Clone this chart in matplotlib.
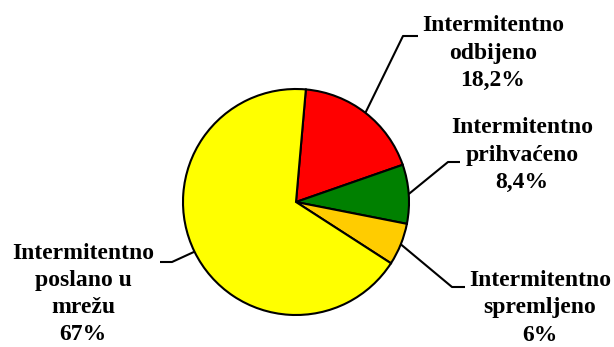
import numpy as np
import matplotlib
matplotlib.use("Agg")
import matplotlib.pyplot as plt

# slice data, clockwise from the top
labels = ["Intermitentno\nodbijeno", "Intermitentno\nprihvaćeno",
          "Intermitentno\nspremljeno", "Intermitentno\nposlano u\nmrežu"]
pct_text = ["18,2%", "8,4%", "6%", "67%"]
values = [18.2, 8.4, 6.0, 67.0]
colors = ["#FF0000", "#008000", "#FFCC00", "#FFFF00"]

W, H = 614, 347
fig = plt.figure(figsize=(W / 100, H / 100), dpi=100)
ax = fig.add_axes([0, 0, 1, 1])

cx, cy, r = 296, H - 202, 113
start = 85
wedges, _ = ax.pie(values, colors=colors, startangle=start, counterclock=False,
                   center=(cx, cy), radius=r,
                   wedgeprops=dict(edgecolor="black", linewidth=1.5))

# label layout: elbow point, end of horizontal stub, text centre (pixels, y down)
layout = [
    ((403, 36), (418, 36), (493, 53)),
    ((448, 162), (460, 162), (522, 155)),
    ((452, 287), (465, 287), (540, 308)),
    ((172, 262), (160, 262), (83, 294)),
]

font = dict(family=["Liberation Serif", "DejaVu Serif"], fontweight="bold", fontsize=17)

for w, lab, pct, (elbow, stub, tpos) in zip(wedges, labels, pct_text, layout):
    mid = np.deg2rad((w.theta1 + w.theta2) / 2)
    x0 = cx + r * np.cos(mid)
    y0 = cy + r * np.sin(mid)
    ax.plot([x0, elbow[0], stub[0]], [y0, H - elbow[1], H - stub[1]],
            color="black", linewidth=1.5, solid_capstyle="butt")
    ax.text(tpos[0], H - tpos[1], lab + "\n" + pct, ha="center", va="center",
            linespacing=1.38, **font)

ax.set_xlim(0, W)
ax.set_ylim(0, H)
ax.set_aspect("equal")
ax.axis("off")

fig.savefig("out.png", dpi=100)
